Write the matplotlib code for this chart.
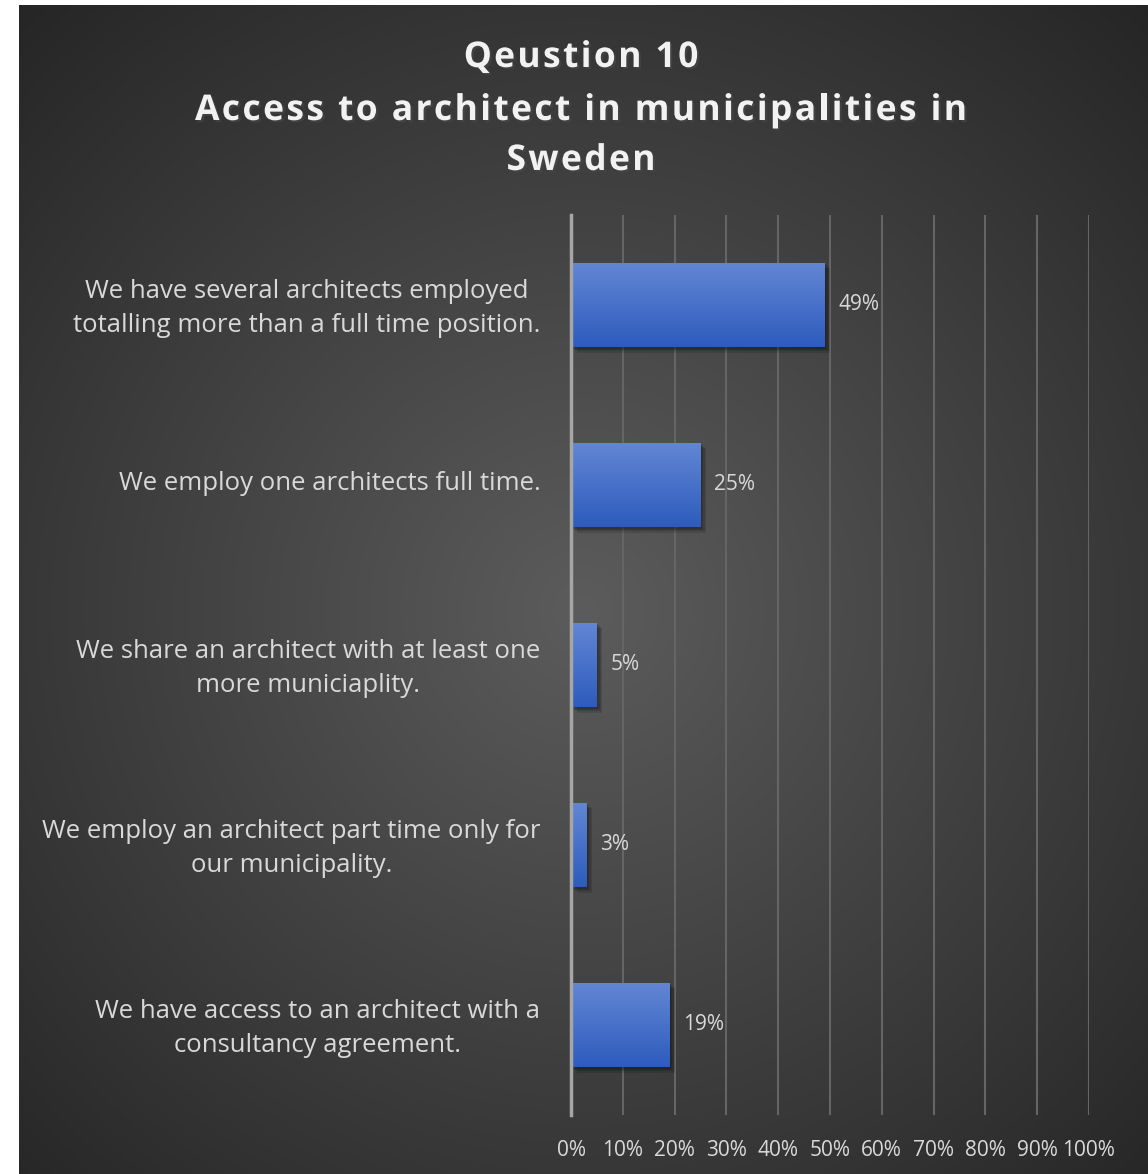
import numpy as np
import matplotlib
matplotlib.use("Agg")
import matplotlib.pyplot as plt
import matplotlib.patheffects as pe
import matplotlib.transforms as mtrans
from matplotlib.font_manager import FontProperties

W, H = 1148, 1174
plt.rcParams["font.family"] = ["Open Sans", "DejaVu Sans"]

TITLE = ["Qeustion 10", "Access to architect in municipalities in", "Sweden"]
categories = [
    "We have several architects employed\ntotalling more than a full time position.",
    "We employ one architects full time.",
    "We share an architect with at least one\nmore municiaplity.",
    "We employ an architect part time only for\nour municipality.",
    "We have access to an architect with a\nconsultancy agreement.",
]
values = [49, 25, 5, 3, 19]
xticks = [0, 10, 20, 30, 40, 50, 60, 70, 80, 90, 100]

TXT = "#d9d9d9"
fig = plt.figure(figsize=(W / 100, H / 100), dpi=100)
fig.patch.set_facecolor("white")

# radial background, dark frame starts 19px from left and 5px from top
bg = fig.add_axes([19 / W, 0, 1 - 19 / W, 1 - 5 / H], zorder=-5)
yy, xx = np.mgrid[0:H - 5, 0:W - 19]
cx, cy = 583 - 19, 610 - 5
d = np.sqrt((xx - cx) ** 2 + (yy - cy) ** 2) / 820.0
g = np.clip(92 - 54 * d, 36, 92) / 255.0
bg.imshow(np.dstack([g, g, g]), aspect="auto", interpolation="bilinear")
bg.axis("off")

ax = fig.add_axes([571 / W, 1 - 1115 / H, (1089 - 571) / W, (1115 - 215) / H])
ax.set_facecolor("none")
y = np.arange(len(values))
bh = 0.47
shadow = [pe.SimplePatchShadow(offset=(o, -o), alpha=0.12, shadow_rgbFace="black") for o in (1, 2, 3, 4)]
bars = ax.barh(y, values, height=bh, color="#3f6bc6", zorder=3, path_effects=shadow + [pe.Normal()])
grad = np.linspace(0, 1, 64)[:, None]
top = np.array([0x62, 0x86, 0xd4]) / 255.0
bot = np.array([0x2e, 0x5c, 0xbd]) / 255.0
cols = top + (bot - top) * grad[..., None]
for b, v, yi in zip(bars, values, y):
    im = ax.imshow(cols, extent=[0, v, yi + bh / 2, yi - bh / 2], aspect="auto", zorder=4,
                   interpolation="bilinear")
    im.set_clip_path(b)
    ax.text(v + 2.6, yi, f"{v}%", color=TXT, fontsize=15, va="center", ha="left", zorder=5)

ax.set_xlim(0, 100)
ax.set_ylim(len(values) - 0.5, -0.5)
ax.set_xticks(xticks)
ax.set_xticklabels([f"{t}%" for t in xticks], color=TXT, fontsize=15)
ax.set_yticks(y)
ax.set_yticklabels(categories, color=TXT, fontsize=18.5, multialignment="center", linespacing=1.48)
ax.tick_params(axis="both", length=0)
ax.tick_params(axis="x", pad=18)
ax.tick_params(axis="y", pad=22)
up = mtrans.ScaledTranslation(0, 4 / 100, fig.dpi_scale_trans)
for lab in ax.get_yticklabels():
    lab.set_transform(lab.get_transform() + up)
ax.grid(axis="x", color="#656565", linewidth=1.5, zorder=0)
ax.set_axisbelow(True)
for s in ["top", "right", "bottom"]:
    ax.spines[s].set_visible(False)
ax.spines["left"].set_color("#a6a6a6")
ax.spines["left"].set_linewidth(2.5)
ax.spines["left"].set_zorder(6)

# title with wide letter spacing, drawn char by char
fp = FontProperties(family=["Open Sans", "DejaVu Sans"], weight="bold", size=25.5)
renderer = fig.canvas.get_renderer()
track = 2.4  # px between letters
sp = (renderer.get_text_width_height_descent("a a", fp, ismath=False)[0]
      - renderer.get_text_width_height_descent("aa", fp, ismath=False)[0])
for line, ly in zip(TITLE, [67, 120, 170]):
    widths = [sp if c == " " else renderer.get_text_width_height_descent(c, fp, ismath=False)[0]
              for c in line]
    total = sum(widths) + track * (len(line) - 1)
    x = 581 - total / 2
    for c, w in zip(line, widths):
        if c != " ":
            fig.text(x / W, 1 - ly / H, c, fontproperties=fp, color="#f2f2f2", ha="left", va="baseline",
                     path_effects=[pe.withSimplePatchShadow(offset=(1.5, -1.5), alpha=0.6)])
        x += w + track

fig.savefig("out.png", dpi=100, facecolor=fig.get_facecolor())
